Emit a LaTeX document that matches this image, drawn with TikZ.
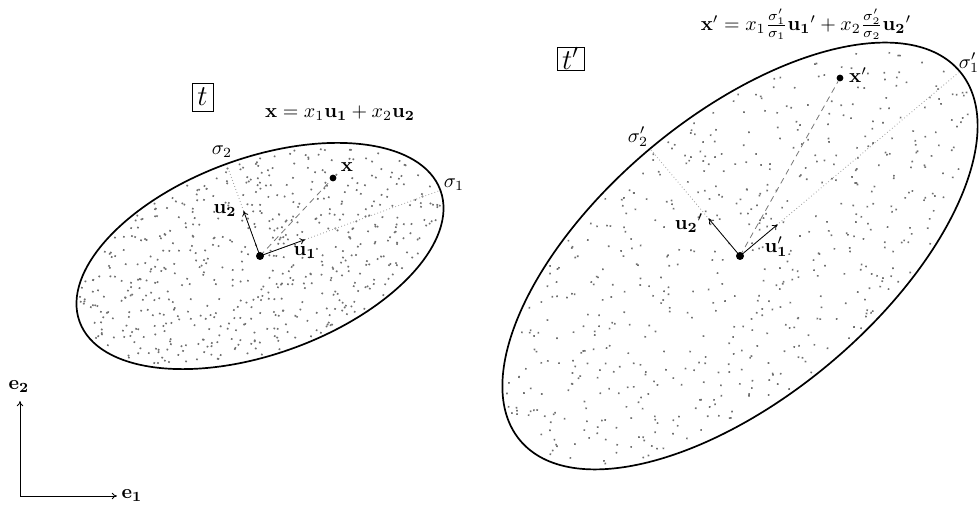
\documentclass[tikz,border=0pt]{standalone}
\usepackage{amsmath}
\usetikzlibrary{arrows.meta}
\definecolor{dotc}{RGB}{112,112,112}
\definecolor{dashc}{RGB}{120,120,120}
\definecolor{guidec}{RGB}{165,165,165}
\tikzset{
  ell/.style={line width=0.85pt},
  vec/.style={-{To[length=2.6pt,width=3.2pt]}, line width=0.4pt},
  guide/.style={guidec, line width=0.45pt, dash pattern=on 0.4pt off 1.2pt},
  dashguide/.style={dashc, line width=0.4pt, dash pattern=on 3pt off 2.2pt},
  ctr/.style={circle, fill=black, inner sep=0pt, minimum size=4pt},
  xpt/.style={circle, fill=black, inner sep=0pt, minimum size=3.4pt},
  lbl/.style={inner sep=0pt},
  framebox/.style={draw, line width=0.4pt, inner sep=0pt, font=\Large}
}
\begin{document}
\begin{tikzpicture}[x=0.5pt,y=0.5pt]
\useasboundingbox (0,0) rectangle (980,508);
% sample points (same normalized set mapped to both ellipses)
\pgfmathsetseed{4711}
\foreach \i in {1,...,600}{
  \pgfmathsetmacro{\rr}{sqrt(rnd)}
  \pgfmathsetmacro{\pp}{360*rnd}
  \pgfmathsetmacro{\uu}{\rr*cos(\pp)}
  \pgfmathsetmacro{\vv}{\rr*sin(\pp)}
  \fill[dotc, shift={(260,252)}, rotate=20] ({189*\uu},{95*\vv}) circle[radius=0.58pt];
  \fill[dotc, shift={(740,252)}, rotate=40] ({283*\uu},{136*\vv}) circle[radius=0.58pt];
}
% left ellipse
\begin{scope}[shift={(260,252)}, rotate=20]
  \coordinate (c1) at (0,0);
  \coordinate (s1) at (191,0);
  \coordinate (s2) at (0,96);
  \coordinate (u1) at (48,0);
  \coordinate (u2) at (0,48);
  \draw[ell] (0,0) ellipse[x radius=96pt, y radius=49pt];
\end{scope}
% right ellipse
\begin{scope}[shift={(740,252)}, rotate=40]
  \coordinate (c2) at (0,0);
  \coordinate (r1) at (285,0);
  \coordinate (r2) at (0,140);
  \coordinate (v1) at (49,0);
  \coordinate (v2) at (0,49);
  \draw[ell] (0,0) ellipse[x radius=143.5pt, y radius=70pt];
\end{scope}
% points x
\node[xpt] (px) at (333,330) {};
\node[xpt] (pxp) at (840,430) {};
% guide lines
\draw[guide] (c1) -- (s1);
\draw[guide] (c1) -- (s2);
\draw[dashguide] (c1) -- (px);
\draw[guide] (c2) -- (r1);
\draw[guide] (c2) -- (r2);
\draw[dashguide] (c2) -- (pxp);
% basis vectors
\draw[vec] (c1) -- (u1);
\draw[vec] (c1) -- (u2);
\draw[vec] (c2) -- (v1);
\draw[vec] (c2) -- (v2);
\node[ctr] (cc1) at (c1) {};
\node[ctr] (cc2) at (c2) {};
% labels left
\node[lbl] (ls1) at (454,323) {$\sigma_1$};
\node[lbl] (ls2) at (222,356) {$\sigma_2$};
\node[lbl] (lx) at (347,341) {$\mathbf{x}$};
\node[lbl] (lu1) at (305,255) {$\mathbf{u_1}$};
\node[lbl] (lu2) at (225,297) {$\mathbf{u_2}$};
% labels right
\node[lbl] (rs1) at (969,445) {$\sigma_1'$};
\node[lbl] (rs2) at (638,371) {$\sigma_2'$};
\node[lbl] (rx) at (858,433) {$\mathbf{x}'$};
\node[lbl] (ru1) at (776,261) {$\mathbf{u_1'}$};
\node[lbl] (ru2) at (689,285) {$\mathbf{u_2}'$};
% boxes
\node[framebox, minimum width=10.5pt, minimum height=14pt] (tb) at (202.5,411) {$t$};
\node[framebox, minimum width=13.5pt, minimum height=11.5pt] (tpb) at (570.5,449.5) {$t'$};
% formulas
\node[lbl] (f1) at (340,395) {$\mathbf{x}=x_1\mathbf{u_1}+x_2\mathbf{u_2}$};
\node[lbl] (f2) at (806,484) {$\mathbf{x}'=x_1\frac{\sigma_1'}{\sigma_1}\mathbf{u_1}'+x_2\frac{\sigma_2'}{\sigma_2}\mathbf{u_2}'$};
% axes
\coordinate (o) at (20,12);
\coordinate (e1t) at (117,12);
\coordinate (e2t) at (20,107);
\draw[vec] (o) -- (e1t);
\draw[vec] (o) -- (e2t);
\node[lbl] (le1) at (132,12) {$\mathbf{e_1}$};
\node[lbl] (le2) at (19,121) {$\mathbf{e_2}$};
\end{tikzpicture}
\end{document}
